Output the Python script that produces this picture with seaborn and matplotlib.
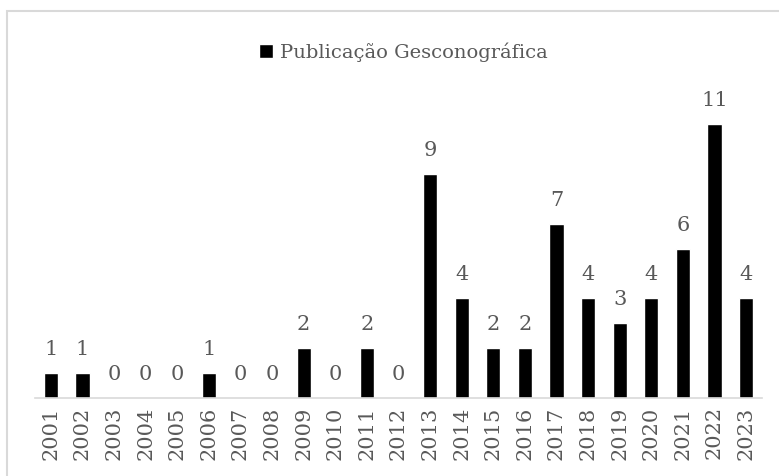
import matplotlib
matplotlib.use("Agg")
import matplotlib.pyplot as plt
import seaborn as sns
import pandas as pd
from matplotlib.patches import Rectangle

years = [str(y) for y in range(2001, 2024)]
counts = [1, 1, 0, 0, 0, 1, 0, 0, 2, 0, 2, 0, 9, 4, 2, 2, 7, 4, 3, 4, 6, 11, 4]
series_name = "Publicação Gesconográfica"

df = pd.DataFrame({"ano": years, "publicacoes": counts})

sns.set_style("white")
plt.rcParams["font.family"] = ["DejaVu Serif"]
text_color = "#595959"

fig = plt.figure(figsize=(7.79, 4.76), dpi=100)
ax = fig.add_axes([0.045, 0.164, 0.933, 0.68])

sns.barplot(data=df, x="ano", y="publicacoes", color="black", width=0.45,
            saturation=1, ax=ax, label=series_name)

for i, v in enumerate(counts):
    ax.annotate(str(v), (i, v), xytext=(0, 10), textcoords="offset points",
                ha="center", va="bottom", fontsize=15, color=text_color)

ax.set_xlim(-0.5, len(years) - 0.5)
ax.set_ylim(0, 13)
ax.set_xlabel("")
ax.set_ylabel("")
ax.set_yticks([])
ax.tick_params(axis="x", rotation=90, labelsize=15, labelcolor=text_color, length=0, pad=6)
for s in ["top", "right", "left"]:
    ax.spines[s].set_visible(False)
ax.spines["bottom"].set_color("#d9d9d9")
ax.spines["bottom"].set_linewidth(1.2)

if ax.legend_:
    ax.legend_.remove()
handles, labels = ax.get_legend_handles_labels()
fig.legend(handles[:1], [series_name], loc="center", bbox_to_anchor=(0.518, 0.891),
           frameon=False, fontsize=14, labelcolor=text_color,
           handlelength=0.7, handleheight=0.7, handletextpad=0.35)

# light frame around the chart area
fig.patches.append(Rectangle((7 / 779, -0.1), 1.2, 1.1 - 11 / 476,
                             transform=fig.transFigure, fill=False,
                             edgecolor="#d9d9d9", linewidth=1.5))

fig.savefig("out.png", dpi=100, facecolor="white")
